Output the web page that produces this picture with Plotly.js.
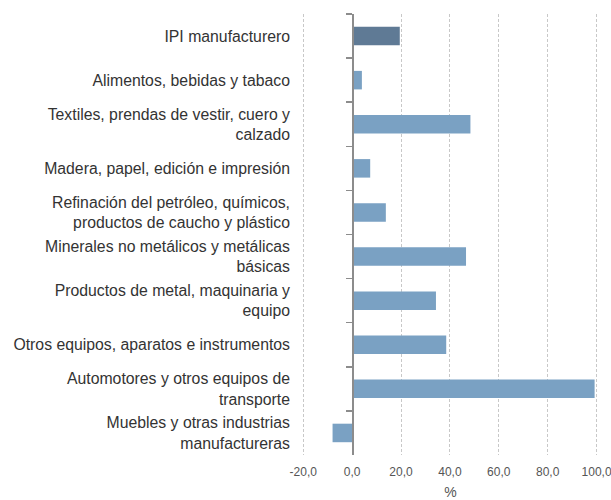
<!DOCTYPE html>
<html><head><meta charset="utf-8">
<script src="https://cdn.plot.ly/plotly-3.0.1.min.js"></script>
<style>html,body{margin:0;padding:0;background:#fff}</style>
</head><body><div id="chart" style="width:611px;height:500px"></div>
<script>
const categories = [
  "IPI manufacturero",
  "Alimentos, bebidas y tabaco",
  "Textiles, prendas de vestir, cuero y<br>calzado",
  "Madera, papel, edición e impresión",
  "Refinación del petróleo, químicos,<br>productos de caucho y plástico",
  "Minerales no metálicos y metálicas<br>básicas",
  "Productos de metal, maquinaria y<br>equipo",
  "Otros equipos, aparatos e instrumentos",
  "Automotores y otros equipos de<br>transporte",
  "Muebles y otras industrias<br>manufactureras"
];
const values = [19.5, 4.0, 48.4, 7.4, 13.8, 46.6, 34.3, 38.5, 99.2, -8.0];
const tickVals = [-20, 0, 20, 40, 60, 80, 100];
const tickText = ["-20,0", "0,0", "20,0", "40,0", "60,0", "80,0", "100,0"];
const barColors = categories.map((c, i) => i === 0 ? "#5f7a95" : "#7aa1c3");

const xRange = [-20.5, 101];
const xDomain = [0, 1];
const zeroPos = xDomain[0] + (0 - xRange[0]) / (xRange[1] - xRange[0]) * (xDomain[1] - xDomain[0]);

const traces = [
  {type: "bar", orientation: "h", x: values, y: categories, marker: {color: barColors},
   hoverinfo: "x+y", yaxis: "y"},
  {type: "bar", orientation: "h", x: values, y: categories, marker: {color: "rgba(0,0,0,0)"},
   hoverinfo: "skip", yaxis: "y2", showlegend: false}
];

const layout = {
  width: 611, height: 500,
  margin: {l: 302, r: 12, t: 14, b: 45},
  paper_bgcolor: "#fff", plot_bgcolor: "#fff",
  showlegend: false,
  bargap: 0.58,
  barmode: "overlay",
  font: {family: "Liberation Sans, Arial, sans-serif", color: "#333", size: 15},
  xaxis: {
    range: xRange, domain: xDomain, tickvals: tickVals, ticktext: tickText,
    showgrid: true, gridcolor: "#c8c8c8", griddash: "3px,2px", gridwidth: 1,
    zeroline: false, showline: false, ticks: "", ticklabelstandoff: 8,
    ticklabeloverflow: "allow",
    tickfont: {size: 12, color: "#555"},
    title: {text: "%", font: {size: 14, color: "#555"}, standoff: 12}
  },
  yaxis: {
    type: "category", categoryarray: categories, autorange: "reversed",
    showgrid: false, zeroline: false, showline: false,
    ticks: "", ticklabelstandoff: 11,
    tickfont: {size: 15.8, color: "#333"}
  },
  yaxis2: {
    type: "category", categoryarray: categories, autorange: "reversed",
    overlaying: "y", anchor: "free", position: zeroPos, side: "left",
    showgrid: false, zeroline: false, showline: true, linecolor: "#8c8c8c", linewidth: 1.5,
    ticks: "outside", tickson: "boundaries", ticklen: 6, tickcolor: "#8c8c8c", tickwidth: 1.5,
    showticklabels: false
  }
};

Plotly.newPlot("chart", traces, layout, {displayModeBar: false, staticPlot: true});
</script></body></html>
